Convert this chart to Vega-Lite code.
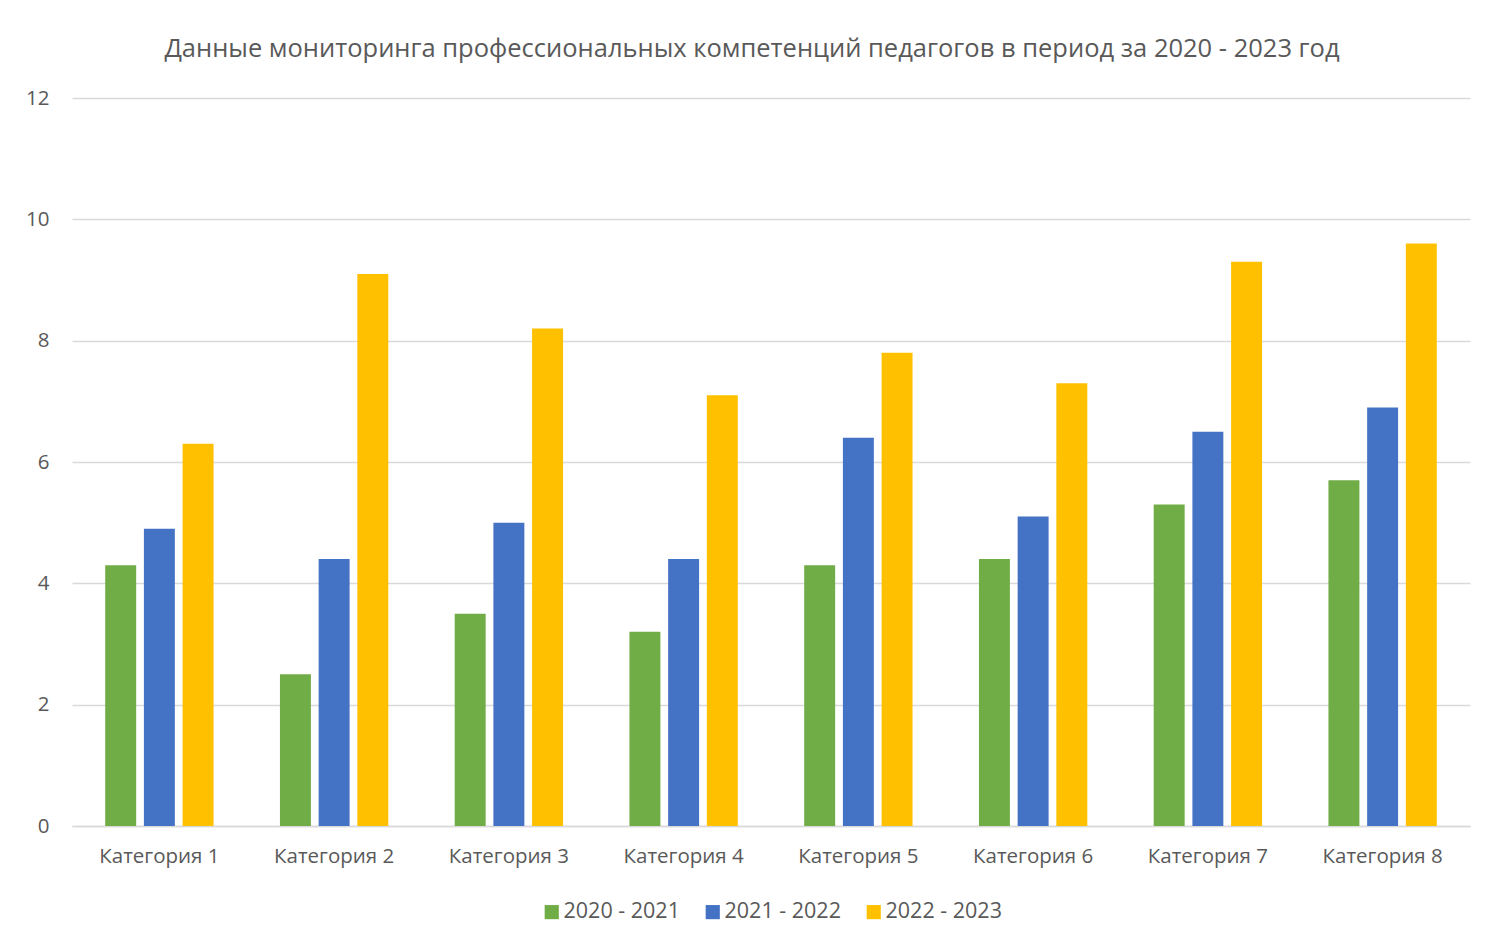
{
  "$schema": "https://vega.github.io/schema/vega-lite/v6.json",
  "autosize": "none",
  "width": 1398,
  "height": 728,
  "padding": {"left": 72, "top": 98, "right": 23, "bottom": 115},
  "background": "white",
  "title": {
    "text": "Данные мониторинга профессиональных компетенций педагогов в период за 2020 - 2023 год",
    "fontSize": 25.5,
    "font": "Open Sans",
    "fontWeight": "normal",
    "color": "#595959",
    "anchor": "middle",
    "dx": -19,
    "baseline": "alphabetic",
    "offset": 6
  },
  "data": {
    "values": [
      {"cat": "Категория 1", "series": "2020 - 2021", "value": 4.3},
      {"cat": "Категория 1", "series": "2021 - 2022", "value": 4.9},
      {"cat": "Категория 1", "series": "2022 - 2023", "value": 6.3},
      {"cat": "Категория 2", "series": "2020 - 2021", "value": 2.5},
      {"cat": "Категория 2", "series": "2021 - 2022", "value": 4.4},
      {"cat": "Категория 2", "series": "2022 - 2023", "value": 9.1},
      {"cat": "Категория 3", "series": "2020 - 2021", "value": 3.5},
      {"cat": "Категория 3", "series": "2021 - 2022", "value": 5.0},
      {"cat": "Категория 3", "series": "2022 - 2023", "value": 8.2},
      {"cat": "Категория 4", "series": "2020 - 2021", "value": 3.2},
      {"cat": "Категория 4", "series": "2021 - 2022", "value": 4.4},
      {"cat": "Категория 4", "series": "2022 - 2023", "value": 7.1},
      {"cat": "Категория 5", "series": "2020 - 2021", "value": 4.3},
      {"cat": "Категория 5", "series": "2021 - 2022", "value": 6.4},
      {"cat": "Категория 5", "series": "2022 - 2023", "value": 7.8},
      {"cat": "Категория 6", "series": "2020 - 2021", "value": 4.4},
      {"cat": "Категория 6", "series": "2021 - 2022", "value": 5.1},
      {"cat": "Категория 6", "series": "2022 - 2023", "value": 7.3},
      {"cat": "Категория 7", "series": "2020 - 2021", "value": 5.3},
      {"cat": "Категория 7", "series": "2021 - 2022", "value": 6.5},
      {"cat": "Категория 7", "series": "2022 - 2023", "value": 9.3},
      {"cat": "Категория 8", "series": "2020 - 2021", "value": 5.7},
      {"cat": "Категория 8", "series": "2021 - 2022", "value": 6.9},
      {"cat": "Категория 8", "series": "2022 - 2023", "value": 9.6}
    ]
  },
  "mark": {"type": "bar"},
  "encoding": {
    "x": {
      "field": "cat",
      "type": "nominal",
      "sort": null,
      "scale": {"paddingInner": 0.38, "paddingOuter": 0.19},
      "axis": {
        "title": null,
        "labelAngle": 0,
        "labelFontSize": 20.5,
        "labelFont": "Open Sans",
        "labelColor": "#595959",
        "labelPadding": 20,
        "ticks": false,
        "domain": true,
        "domainColor": "#D9D9D9",
        "domainWidth": 1.5,
        "grid": false
      }
    },
    "xOffset": {
      "field": "series",
      "type": "nominal",
      "scale": {"paddingInner": 0.2, "paddingOuter": 0}
    },
    "y": {
      "field": "value",
      "type": "quantitative",
      "scale": {"domain": [0, 12]},
      "axis": {
        "title": null,
        "values": [0, 2, 4, 6, 8, 10, 12],
        "labelFontSize": 20.5,
        "labelFont": "Open Sans",
        "labelColor": "#595959",
        "labelPadding": 23,
        "ticks": false,
        "domain": false,
        "grid": true,
        "gridColor": "#D9D9D9",
        "gridWidth": 1.5
      }
    },
    "color": {
      "field": "series",
      "type": "nominal",
      "scale": {
        "domain": ["2020 - 2021", "2021 - 2022", "2022 - 2023"],
        "range": ["#70AD47", "#4472C4", "#FFC000"]
      },
      "legend": {
        "title": null,
        "orient": "bottom",
        "direction": "horizontal",
        "symbolType": "square",
        "symbolSize": 200,
        "symbolStrokeWidth": 0,
        "labelFontSize": 21.5,
        "labelFont": "Open Sans",
        "labelColor": "#595959",
        "labelOffset": 1,
        "columnPadding": 22,
        "offset": 34
      }
    }
  },
  "config": {
    "view": {"stroke": null},
    "legend": {"layout": {"bottom": {"anchor": "middle"}}}
  }
}
